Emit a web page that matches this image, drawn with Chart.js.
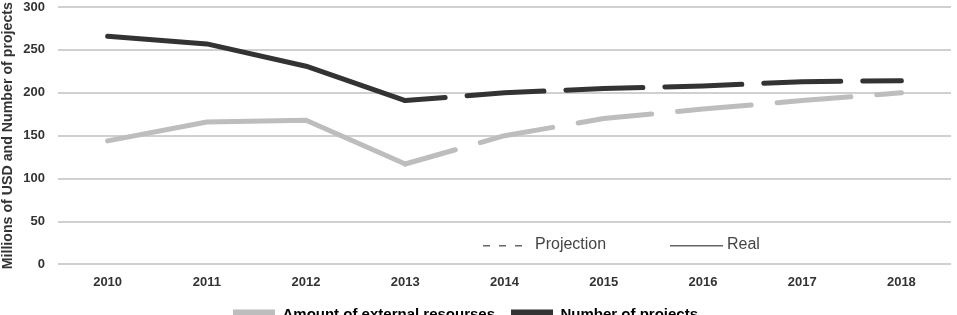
<!DOCTYPE html>
<html>
<head>
<meta charset="utf-8">
<script src="https://cdn.jsdelivr.net/npm/chart.js@4/dist/chart.umd.min.js"></script>
<style>
html,body{margin:0;padding:0;background:#fff;overflow:hidden;}
#wrap{width:957px;height:332px;position:relative;}
</style>
</head>
<body>
<div id="wrap"><canvas id="c" width="957" height="332"></canvas></div>
<script>
const years = ["2010","2011","2012","2013","2014","2015","2016","2017","2018"];
const externalResources = [144, 166, 168, 117, 150, 170, 181, 191, 200];
const numberOfProjects = [266, 257, 231, 191, 200, 205, 208, 213, 214];
const realUntilIndex = 3; // 2013: last real value, projection afterwards
const seriesNames = ["Amount of external resourses", "Number of projects"];
const yTicks = [0, 50, 100, 150, 200, 250, 300];
const yTitle = "Millions of USD and Number of projects";
const noteLabels = ["Projection", "Real"];

const FONT = "'Liberation Sans', Arial, Helvetica, sans-serif";

const notePlugin = {
  id: 'notes',
  afterDraw(chart) {
    const ctx = chart.ctx;
    const y = chart.scales.y.getPixelForValue(23);
    ctx.save();
    ctx.font = "16px " + FONT;
    ctx.fillStyle = "#444";
    ctx.textBaseline = "middle";
    ctx.strokeStyle = "#666";
    ctx.lineWidth = 1.5;
    ctx.setLineDash([7, 9]);
    ctx.beginPath(); ctx.moveTo(483, y + 1); ctx.lineTo(524, y + 1); ctx.stroke();
    ctx.setLineDash([]);
    ctx.fillText(noteLabels[0], 535, y);
    ctx.beginPath(); ctx.moveTo(670, y + 1); ctx.lineTo(723, y + 1); ctx.stroke();
    ctx.fillText(noteLabels[1], 727, y);
    ctx.restore();
  }
};

const dashSeg = (dash, offset) => ({
  borderDash: ctx => ctx.p0DataIndex >= realUntilIndex ? dash : undefined,
  borderDashOffset: ctx => ctx.p0DataIndex >= realUntilIndex ? offset : 0
});

new Chart(document.getElementById('c'), {
  type: 'line',
  data: {
    labels: years,
    datasets: [
      {
        label: seriesNames[0],
        data: externalResources,
        borderColor: '#bdbdbd',
        backgroundColor: '#bdbdbd',
        borderWidth: 5,
        pointRadius: 0,
        tension: 0,
        borderCapStyle: 'round',
        borderJoinStyle: 'round',
        segment: dashSeg([74, 26], 22)
      },
      {
        label: seriesNames[1],
        data: numberOfProjects,
        borderColor: '#333333',
        backgroundColor: '#333333',
        borderWidth: 5,
        pointRadius: 0,
        tension: 0,
        borderCapStyle: 'round',
        borderJoinStyle: 'round',
        segment: dashSeg([77, 22], 37)
      }
    ]
  },
  options: {
    responsive: false,
    animation: false,
    layout: { padding: { left: -20, right: 6, top: 0, bottom: 0 } },
    plugins: {
      legend: {
        position: 'bottom',
        labels: {
          font: { family: FONT, size: 15, weight: 'bold' },
          color: '#222',
          boxWidth: 42,
          boxHeight: 10,
          padding: 16,
          generateLabels(chart) {
            return chart.data.datasets.map((d, i) => ({
              text: d.label,
              fillStyle: d.borderColor,
              strokeStyle: d.borderColor,
              lineWidth: 0,
              datasetIndex: i,
              hidden: false
            }));
          }
        }
      },
      tooltip: { enabled: false }
    },
    scales: {
      x: {
        offset: true,
        grid: { display: false, drawTicks: false },
        border: { display: false },
        ticks: {
          font: { family: FONT, size: 13, weight: 'bold' },
          color: '#333',
          padding: 10
        },
        afterFit(scale) { scale.height = scale.height - 9; scale.paddingLeft = 0; scale.paddingRight = 0; }
      },
      y: {
        min: 0, max: 300,
        afterBuildTicks(axis) { axis.ticks = yTicks.map(v => ({ value: v })); },
        grid: { color: '#d0d0d0', lineWidth: 2, drawTicks: false },
        border: { display: false },
        ticks: {
          font: { family: FONT, size: 13, weight: 'bold' },
          color: '#333',
          padding: 13
        },
        title: {
          display: true,
          text: yTitle,
          font: { family: FONT, size: 14.2, weight: 'bold' },
          color: '#333',
          padding: { top: 20, bottom: 5 }
        },
        afterFit(scale) { scale.width = 78; scale.paddingTop = 7; scale.paddingBottom = 7; }
      }
    }
  },
  plugins: [notePlugin]
});
</script>
</body>
</html>
